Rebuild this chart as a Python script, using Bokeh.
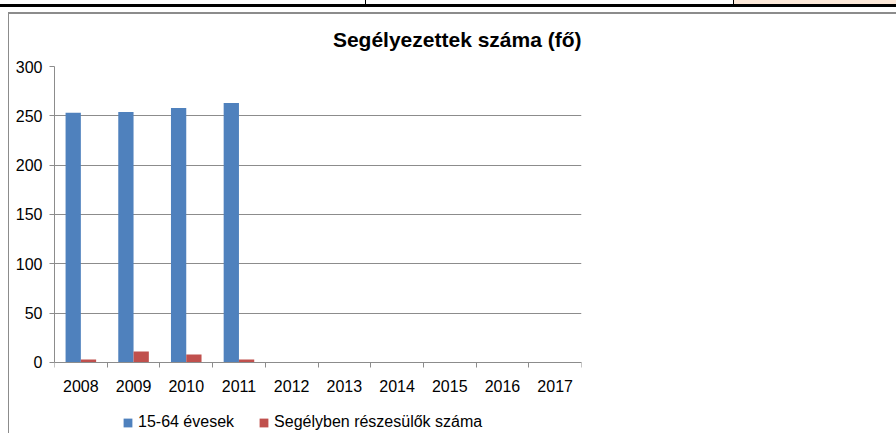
from bokeh.plotting import figure
from bokeh.models import (ColumnDataSource, FixedTicker, Range1d, Legend, LegendItem, Title)
from bokeh.transform import dodge
from bokeh.embed import file_html
from bokeh.resources import INLINE

years = ["2008", "2009", "2010", "2011", "2012", "2013", "2014", "2015", "2016", "2017"]
series_names = ["15-64 évesek", "Segélyben részesülők száma"]
ages_15_64 = [253, 254, 258, 263]
aided = [3, 11, 8, 3]
y_ticks = [0, 50, 100, 150, 200, 250, 300]
title_text = "Segélyezettek száma (fő)"

BLUE = "#4F81BD"
RED = "#C0504D"
GRID = "#8C8C8C"
FONT = "Liberation Sans"

n = len(ages_15_64)
src = ColumnDataSource(dict(idx=list(range(n)), blue=ages_15_64, red=aided))

# the frame reaches down to the legend row; the value axis spans 0..300 only
p = figure(frame_width=527, frame_height=367,
           output_backend="svg", toolbar_location=None,
           x_range=Range1d(-0.5, len(years) - 0.5), y_range=Range1d(-72, 300),
           min_border_left=54, min_border_right=315, min_border_top=66, min_border_bottom=0,
           title=None)
p.outline_line_color = None
p.background_fill_color = "white"
p.border_fill_alpha = 0

# sheet decorations drawn as CSS backgrounds behind the transparent border area
bg = [
    ("#000000", "896px 3px", "0px 4px"),      # black rule of the sheet
    ("#000000", "1px 5px", "365px 0px"),      # cell divider
    ("#FDE9D9", "162px 4px", "734px 0px"),    # shaded cell
    ("#000000", "1px 5px", "733px 0px"),      # cell divider
    ("#8C8C8C", "888px 2px", "8px 12px"),     # chart border top
    ("#8C8C8C", "1px 421px", "8px 12px"),     # chart border left
]
p.styles = {
    "background-color": "white",
    "background-image": ", ".join(f"linear-gradient({c}, {c})" for c, _, _ in bg),
    "background-size": ", ".join(s for _, s, _ in bg),
    "background-position": ", ".join(pos for _, _, pos in bg),
    "background-repeat": "no-repeat",
}

w = 0.29
rb = p.vbar(x=dodge("idx", -w / 2, range=p.x_range), top="blue", width=w, source=src,
            fill_color=BLUE, line_color=None)
rr = p.vbar(x=dodge("idx", w / 2, range=p.x_range), top="red", width=w, source=src,
            fill_color=RED, line_color=None)

# x axis, pinned at value 0
p.xaxis.fixed_location = 0
p.xaxis.ticker = FixedTicker(ticks=list(range(len(years))),
                             minor_ticks=[i - 0.5 for i in range(len(years) + 1)])
p.xaxis.major_label_overrides = {i: y for i, y in enumerate(years)}
p.xaxis.major_tick_out = 0
p.xaxis.major_tick_in = 0
p.xaxis.minor_tick_out = 5
p.xaxis.minor_tick_in = 0
p.xaxis.minor_tick_line_color = GRID
p.xaxis.axis_line_color = GRID
p.xaxis.major_label_standoff = 13
p.xaxis.major_label_text_font = FONT
p.xaxis.major_label_text_font_size = "16px"
p.xaxis.major_label_text_color = "black"

# y axis
p.yaxis.bounds = (0, 300)
p.yaxis.ticker = FixedTicker(ticks=y_ticks)
p.yaxis.minor_tick_line_color = None
p.yaxis.major_tick_out = 5
p.yaxis.major_tick_in = 0
p.yaxis.major_tick_line_color = GRID
p.yaxis.axis_line_color = GRID
p.yaxis.major_label_standoff = 7
p.yaxis.major_label_text_font = FONT
p.yaxis.major_label_text_font_size = "16px"
p.yaxis.major_label_text_color = "black"

p.xgrid.grid_line_color = None
p.ygrid.grid_line_color = GRID
p.ygrid.ticker = FixedTicker(ticks=y_ticks)

# title
p.add_layout(Title(text=title_text, align="right", offset=0, standoff=32,
                   text_font=FONT, text_font_size="21px", text_font_style="bold",
                   text_color="black"), "above")

legend = Legend(items=[LegendItem(label=series_names[0], renderers=[rb]),
                       LegendItem(label=series_names[1], renderers=[rr])],
                orientation="horizontal", location=(68, 2),
                label_text_font=FONT, label_text_font_size="16px", label_text_color="black",
                glyph_width=11, glyph_height=11, label_standoff=5, spacing=24,
                padding=0, margin=0, border_line_color=None, background_fill_alpha=0,
                label_height=16)
p.add_layout(legend, "center")

open("out.html", "w").write(file_html(p, INLINE))
